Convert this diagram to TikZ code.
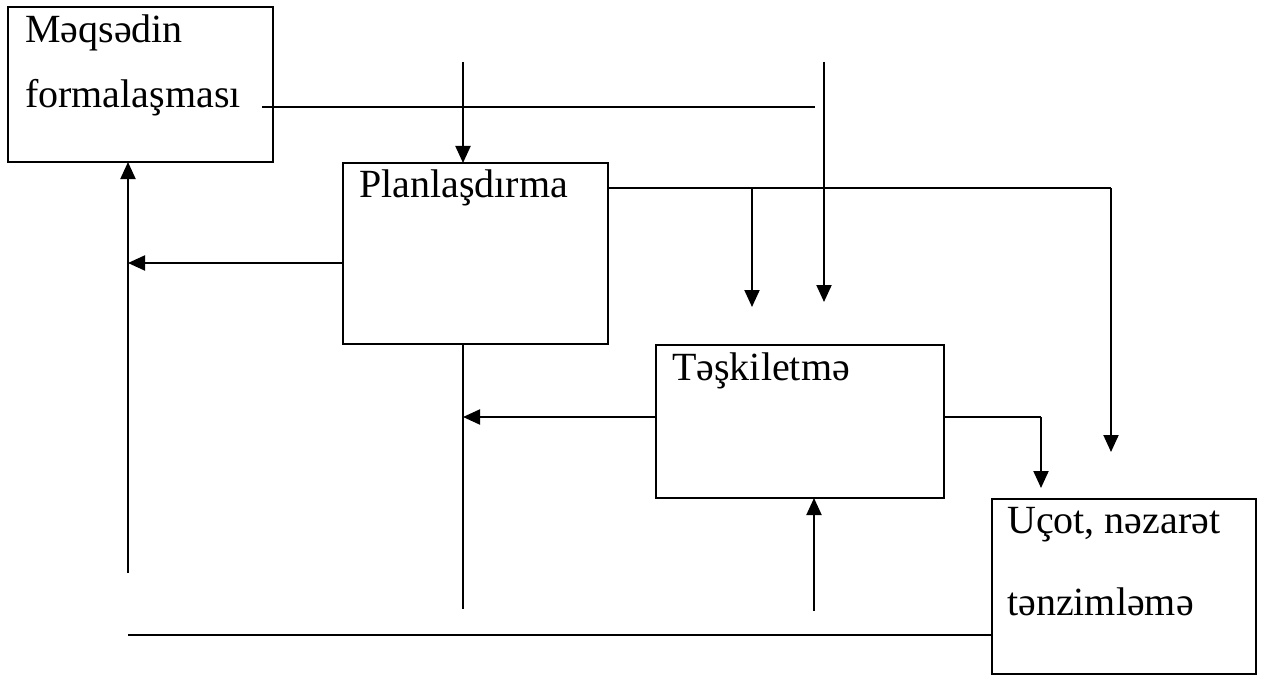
\documentclass[tikz,border=0pt]{standalone}
\usepackage{fontspec}
\setmainfont{Liberation Serif}
\usetikzlibrary{arrows.meta}
\begin{document}
\begin{tikzpicture}[x=1pt,y=-1pt,
  box/.style={draw,line width=2.6pt,rectangle,anchor=north west,inner sep=0pt,outer sep=0pt},
  lbl/.style={anchor=base west,inner sep=0pt,font=\fontsize{40}{48}\selectfont},
  conn/.style={line width=2pt},
  arr/.style={conn,-{Triangle[width=15pt,length=17pt]}}]
\useasboundingbox (0,0) rectangle (1261,682);
% boxes
\node[box,minimum width=265pt,minimum height=155pt] (b1) at (8,7) {};
\node[box,minimum width=265pt,minimum height=181pt] (b2) at (343,163) {};
\node[box,minimum width=288pt,minimum height=153pt] (b3) at (656,345) {};
\node[box,minimum width=264pt,minimum height=175pt] (b4) at (992,499) {};
% texts
\node[lbl] (t1a) at (25,43) {Məqsədin};
\node[lbl] (t1b) at (25,108) {formalaşması};
\node[lbl] (t2) at (359,197) {Planlaşdırma};
\node[lbl] (t3) at (672,380) {Təşkiletmə};
\node[lbl] (t4a) at (1007,533) {Uçot, nəzarət};
\node[lbl] (t4b) at (1007,615) {tənzimləmə};
% free ends
\coordinate (a1) at (262,107);
\coordinate (a2) at (815,107);
\coordinate (c1) at (463,62);
\coordinate (c2) at (824,62);
\coordinate (c3) at (824,302);
\coordinate (d1) at (752,188);
\coordinate (d2) at (752,307);
\coordinate (e1) at (1111,188);
\coordinate (e2) at (1111,452);
\coordinate (f1) at (128,263);
\coordinate (g1) at (128,573);
\coordinate (h1) at (463,609);
\coordinate (k1) at (463,417);
\coordinate (m1) at (1041,417);
\coordinate (m2) at (1041,488);
\coordinate (n1) at (814,611);
\coordinate (p1) at (128,635);
% connectors
\draw[conn] (a1) -- (a2);
\draw[arr] (c1) -- (c1 |- b2.north);
\draw[arr] (c2) -- (c3);
\draw[conn] (b2.east |- e1) -- (e1);
\draw[arr] (e1) -- (e2);
\draw[arr] (d1) -- (d2);
\draw[arr] (b2.west |- f1) -- (f1);
\draw[arr] (g1) -- (g1 |- b1.south);
\draw[conn] (h1 |- b2.south) -- (h1);
\draw[arr] (b3.west |- k1) -- (k1);
\draw[conn] (b3.east |- m1) -- (m1);
\draw[arr] (m1) -- (m2);
\draw[arr] (n1) -- (n1 |- b3.south);
\draw[conn] (p1) -- (b4.west |- p1);
\end{tikzpicture}
\end{document}
